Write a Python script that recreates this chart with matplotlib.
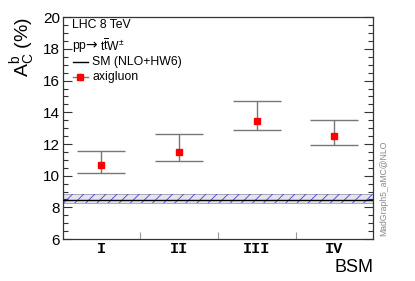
import matplotlib
matplotlib.use("Agg")
import matplotlib.pyplot as plt
from matplotlib.lines import Line2D
from matplotlib.ticker import MultipleLocator, FixedLocator, NullFormatter
import numpy as np

plt.rcParams['font.family'] = ['Liberation Sans', 'DejaVu Sans']
plt.rcParams['mathtext.fontset'] = 'custom'
plt.rcParams['mathtext.rm'] = 'Liberation Sans'
plt.rcParams['mathtext.it'] = 'Liberation Sans:italic'
plt.rcParams['mathtext.bf'] = 'Liberation Sans:bold'
plt.rcParams['hatch.linewidth'] = 0.6
plt.rcParams['hatch.color'] = '#4040e0'

# data
models = ['I', 'II', 'III', 'IV']
axigluon = [10.66, 11.51, 13.45, 12.53]
axi_up = [11.54, 12.63, 14.69, 13.53]
axi_down = [10.17, 10.91, 12.86, 11.92]
sm_central = 8.48
sm_up = 8.82
sm_down = 8.30

W, H = 415, 281
fig = plt.figure(figsize=(4.15, 2.81), dpi=100)
ax = fig.add_axes([0.151, 0.149, 0.7485, 0.7898])

x = np.arange(len(models)) + 0.5
# SM band
ax.fill_between([0, len(models)], [sm_down] * 2, [sm_up] * 2, facecolor='#e4e4ee',
                edgecolor='#a8a8b8', lw=0.7, zorder=1)
ax.fill_between([0, len(models)], [sm_down] * 2, [sm_up] * 2, facecolor='none',
                edgecolor='#4040e0', hatch='///', lw=0, zorder=2)
ax.plot([0, len(models)], [sm_central] * 2, color='black', lw=1.0, zorder=3)

yerr = [np.array(axigluon) - np.array(axi_down), np.array(axi_up) - np.array(axigluon)]
ax.errorbar(x, axigluon, yerr=yerr, fmt='none', ecolor='#777777', elinewidth=1.0,
            capsize=17.5, capthick=1.0, zorder=4)
ax.plot(x, axigluon, 's', color='red', markersize=4.3, mec='red', zorder=5)

ax.set_xlim(0, len(models))
ax.set_ylim(6, 20)
ax.yaxis.set_major_locator(MultipleLocator(2))
ax.yaxis.set_minor_locator(MultipleLocator(0.5))
ax.xaxis.set_major_locator(FixedLocator([1, 2, 3]))
ax.xaxis.set_major_formatter(NullFormatter())
ax.tick_params(axis='y', which='major', direction='in', length=6.5, width=0.8,
               right=True, labelsize=11, pad=2, colors='#333333', labelcolor='black')
ax.tick_params(axis='y', which='minor', direction='in', length=3.5, width=0.8,
               right=True, colors='#333333')
ax.tick_params(axis='x', which='major', direction='in', length=5, width=0.8,
               colors='#999999')
for sp in ax.spines.values():
    sp.set_linewidth(0.9)
    sp.set_color('#333333')

for xi, lab in zip(x, models):
    ax.text(xi, -0.012, lab, transform=ax.get_xaxis_transform(), ha='center', va='top',
            family='Liberation Mono', fontweight='bold', fontsize=11)

fig.text(0.899, 1 - 268 / H, 'BSM', ha='right', va='center', fontsize=13)
fig.text(0.055, 0.94, r'$\mathrm{A}_{\mathrm{C}}^{\mathrm{b}}$ (%)', rotation=90,
         ha='center', va='top', fontsize=14)

fig.text(0.925, 1 - 236 / H, 'MadGraph5_aMC@NLO', rotation=90, ha='center', va='bottom',
         fontsize=6.2, color='#888888')

# legend block
fs = 8.8
fig.text(72 / W, 1 - 25 / H, 'LHC 8 TeV', ha='left', va='center', fontsize=fs)
fig.text(72 / W, 1 - 46 / H, 'pp', ha='left', va='center', fontsize=fs)
fig.text(85 / W, 1 - 45 / H, '→', ha='left', va='center', fontsize=10,
         family=['DejaVu Sans'])
fig.text(99.5 / W, 1 - 46 / H, r't$\overline{\mathrm{t}}$W$^{\pm}$',
         ha='left', va='center', fontsize=fs)
fig.text(0.222, 1 - 62 / H, 'SM (NLO+HW6)', ha='left', va='center', fontsize=fs)
fig.text(0.222, 1 - 77 / H, 'axigluon', ha='left', va='center', fontsize=fs)
fig.add_artist(Line2D([0.175, 0.212], [1 - 62 / H] * 2, color='black', lw=1.0))
fig.add_artist(Line2D([0.175, 0.212], [1 - 77 / H] * 2, color='#777777', lw=1.0))
fig.add_artist(Line2D([0.1935] * 2, [1 - 74 / H, 1 - 80 / H], color='#777777', lw=1.0))
fig.add_artist(Line2D([0.1935], [1 - 77 / H], marker='s', color='red', markersize=4.3, lw=0))

fig.savefig('out.png', dpi=100)
